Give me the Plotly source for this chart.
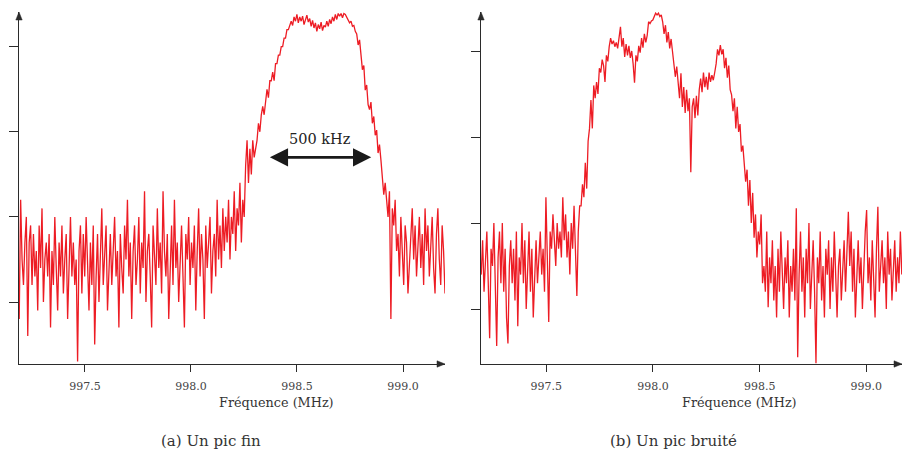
import numpy as np
import plotly.graph_objects as go

# ---------------- data ----------------
# Panel (a): narrow peak, amplitude in arbitrary units (ticks at 0,10,20,30)
freq_a_start, freq_a_end = 997.19, 999.198
sig_a = [
    -2, 12, 5, 2, 7, 10, -4, 7, 9, 2, 8, 3, 6, -1, 9, 4, 11, 0, 5, 7,
    3, 8, -3, 6, 2, 10, 4, -1, 7, 3, 9, 1, 5, 8, -2, 6, 10, 3, 7, 2,
    5, -7, 6, 9, 1, 8, 3, 10, 4, -1, 7, 2, 9, -5, 3, 8, 0, 6, 11, 2,
    5, 9, -1, 4, 8, 2, 7, 10, 3, 6, -3, 8, 4, 1, 9, 5, 12, 3, 7, -2,
    6, 9, 2, 5, 10, 1, 7, 4, 13, 0, 6, 8, 3, -3, 9, 5, 2, 11, 4, 7,
    1, 13, 6, 3, 8, -2, 5, 9, 2, 12, 4, 7, 0, 6, 9, 3, -3, 8, 5, 10,
    2, 7, 4, 9, -1, 6, 11, 3, 8, 5, -2, 9, 4, 7, 10, 1, 6, 8, 3, 12, 5, 9, 4, 11, 6, 10,
    7, 12, 5, 10, 8, 13, 6, 11, 9, 14, 7, 12, 10,
    16, 19, 14, 18, 15, 19, 17, 18,
    19, 21, 20, 22, 23, 22, 24, 25, 24, 26, 26, 27, 26, 28, 28, 29, 29, 30, 30, 31, 31, 32, 32, 32.5,
    33, 32.5, 33.5, 33, 33.8, 32.8, 33.5, 33, 33.6, 32.6,
    33.2, 33.7, 32.9, 33.3, 32.4, 33.1, 32.2, 32.8, 31.8, 32.6,
    32.1, 32.9, 31.9, 32.5, 32.3, 33, 32.4, 33.2, 32.7, 33.5,
    33, 33.8, 33.2, 33.9, 33.6, 33.9, 33.4, 33.9, 33.8, 33.5,
    33.2, 32.8, 33, 32.4, 32.5, 31.8,
    31.5, 30.2, 30.8, 28.5, 27.3, 27.8, 24.9, 25.5, 23.2, 22.6, 23.5, 21, 21.8, 19.6, 20.2, 17.5, 18.5, 16.7, 15, 12.6, 14,
    12, 10, 13, -2, 11, 9, 12, 6, 8, 3,
    10, 5, 2, 9, 7, 1, 4, 8, 11, 5,
    9, 3, 7, 10, 4, 8, 2, 11, 6, 9,
    3, 7, 10, 4, 1, 8, 11, 5, 2, 9,
    6, 1,
]

# Panel (b): noisy peak
freq_b_start, freq_b_end = 997.195, 999.166
sig_b = [
    4, 8, 2, 6, 9, 3, -3.4, 7, 5, 10, 1, -4.3, 6, 9, 3, 10, 2, 7, -1, -4,
    5, 8, 3, 7, 1, 9, -2, 6, 4, 10, 3, 8, 0, 6, 9, 2, 7, -1, 5, 8,
    3, 6, 9, 4, 7, 2,
    13, 6, -1.5, 9, 7, 11, 8, 5, 10, 7, 9, 6, 13, 8, 11, 6, 9, 4, 10, 7, 12, 5, 1.5, 9, 12,
    12, 14.5, 13, 17, 14, 19.5, 21, 24.3, 21, 26,
    24.5, 26.4, 25, 28, 27.5, 29, 28.3, 26.4, 29.5, 28.8,
    30.5, 31.5, 30.8, 31.2, 30.5, 31, 30.3, 31.6, 32.8, 30.5,
    31.5, 29.3, 30.8, 29.5, 30.6, 29.2, 30, 28.5, 26.3, 29.5,
    28.8, 30.6, 29.8, 31.5, 30.4, 32, 31, 31.8, 33.4, 33.2,
    33.5, 33.6, 34, 34.4, 34.2, 34.4, 34, 34.2, 33.4, 32,
    33, 31, 32.2, 30.3, 31.4, 30, 28.7, 27, 28.2, 26.4,
    24.5, 27.4, 23.5, 25.8, 22.8, 25.5, 23, 24.5, 15.9, 23.5,
    24.5, 22.2, 24.8, 22.5, 25.5, 26.8, 25.2, 27.5, 25.8, 27,
    25.5, 27.5, 26.4, 27.2, 26.6, 27.5, 28.5, 30.2, 29.5, 30.7,
    29.6, 30.2, 28, 29.2, 26.9, 28.3, 25.5, 24.9, 23, 24.5,
    21, 23.5, 20.6, 21.5, 18.3, 19, 17, 14.8, 16.2, 12,
    15, 10, 13.5, 8.3, 11, 6, 9, 7.5, 11, 3,
    5, 2, 9, 0.2, 6,
    3, 8, 1, 5, -1, 7, 2, 9, 4, 0,
    6, 3, 8, -1, 5, 2, 7, 1, 11.7, -5.6,
    4, 9, 2, 6, -1, 7, 3, 10, 0, 5,
    8, 2, -6.3, 6, 3, 9, 1, 5, -1, 7,
    4, 8, 0, 6, 2, 9, 3, -1, 5, 7,
    1, 4, 8, 2, 6, 11.3, 5, 9, 2, 7,
    -1, 4, 8, 3, 6, 0, 5, 9, 11.5, 3,
    6, 1, 8, 4, -1, 7, 11.9, 2, 5, 8,
    3, 6, 0, 9, 4, 7, 1, 5, 8, 2,
    6, 3, 9, 4,
]

x_ticks = [997.5, 998.0, 998.5, 999.0]
x_tick_labels = ["997.5", "998.0", "998.5", "999.0"]
y_ticks = [0, 10, 20, 30]
x_title = "Fréquence (MHz)"
captions = ["(a) Un pic fin", "(b) Un pic bruité"]
width_label = "500 kHz"
width_from, width_to, width_level = 998.365, 998.85, 17.0

freq_a = np.linspace(freq_a_start, freq_a_end, len(sig_a))
freq_b = np.linspace(freq_b_start, freq_b_end, len(sig_b))

# ---------------- layout geometry ----------------
W, H = 902, 454
RED = "#ED1C24"
AX = "#2b2b2b"
SERIF = "DejaVu Serif"

def fx(px):
    return px / W

def fy(py):
    return (H - py) / H

y_bottom_px, y_top_px = 364, 12
dom_a = [fx(19), fx(445)]
dom_b = [fx(481), 1.0]
dom_y = [fy(y_bottom_px), fy(y_top_px)]

fig = go.Figure()
fig.add_trace(go.Scatter(x=freq_a, y=sig_a, mode="lines", xaxis="x", yaxis="y",
                         line=dict(color=RED, width=1.3), showlegend=False))
fig.add_trace(go.Scatter(x=freq_b, y=sig_b, mode="lines", xaxis="x2", yaxis="y2",
                         line=dict(color=RED, width=1.3), showlegend=False))

xcommon = dict(showgrid=False, zeroline=False, showline=True, linecolor=AX, linewidth=1.3,
               ticks="outside", ticklen=7, tickwidth=1.2, tickcolor=AX,
               tickvals=x_ticks, ticktext=x_tick_labels, ticklabelstandoff=5,
               tickfont=dict(family=SERIF, size=11, color="#444"))
ycommon = dict(showgrid=False, zeroline=False, showline=True, linecolor=AX, linewidth=1.3,
               ticks="outside", ticklen=9, tickwidth=1.2, tickcolor=AX,
               tickvals=y_ticks, showticklabels=False)

fig.update_layout(
    width=W, height=H, margin=dict(l=0, r=0, t=0, b=0),
    paper_bgcolor="white", plot_bgcolor="white",
    font=dict(family=SERIF),
    xaxis=dict(domain=dom_a, range=[997.189, 999.198], anchor="y", **xcommon),
    yaxis=dict(domain=dom_y, range=[(302 - y_bottom_px) / 8.51, (302 - y_top_px) / 8.51],
               anchor="x", **ycommon),
    xaxis2=dict(domain=dom_b, range=[997.194, 999.167], anchor="y2", **xcommon),
    yaxis2=dict(domain=dom_y, range=[(309 - y_bottom_px) / 8.6, (309 - y_top_px) / 8.6],
                anchor="x2", **ycommon),
)

# axis arrowheads (paper coordinates)
shapes = []
for xl, xr in [(19, 445), (481, 902)]:
    shapes.append(dict(type="path", xref="paper", yref="paper",
                       path=f"M {fx(xl-3.2)} {fy(y_top_px+8)} L {fx(xl)} {fy(y_top_px)} L {fx(xl+3.2)} {fy(y_top_px+8)} Z",
                       fillcolor=AX, line=dict(color=AX, width=0.5)))
    shapes.append(dict(type="path", xref="paper", yref="paper",
                       path=f"M {fx(xr-8)} {fy(y_bottom_px-3.2)} L {fx(xr)} {fy(y_bottom_px)} L {fx(xr-8)} {fy(y_bottom_px+3.2)} Z",
                       fillcolor=AX, line=dict(color=AX, width=0.5)))
fig.update_layout(shapes=shapes)

def label(text, px, py, size, color="#333"):
    return dict(text=text, xref="paper", yref="paper", x=fx(px), y=fy(py),
                xanchor="center", yanchor="middle", showarrow=False,
                font=dict(family=SERIF, size=size, color=color))

ann = [
    label(x_title, 276, 402, 12.8),
    label(x_title, 739, 402, 12.8),
    label(captions[0], 211, 441, 15),
    label(captions[1], 673, 441, 15),
]
ann.append(dict(x=width_to, y=width_level, ax=width_from, ay=width_level,
                xref="x", yref="y", axref="x", ayref="y", text="",
                showarrow=True, arrowhead=2, arrowside="end+start",
                arrowsize=1.4, arrowwidth=2.6, arrowcolor="#1a1a1a",
                standoff=0, startstandoff=0))
ann.append(dict(x=(width_from + width_to) / 2, y=width_level + 2.2, xref="x", yref="y",
                text=width_label, showarrow=False, xanchor="center", yanchor="middle",
                font=dict(family=SERIF, size=14.5, color="#222")))
fig.update_layout(annotations=ann)

fig.write_html("out.html")
